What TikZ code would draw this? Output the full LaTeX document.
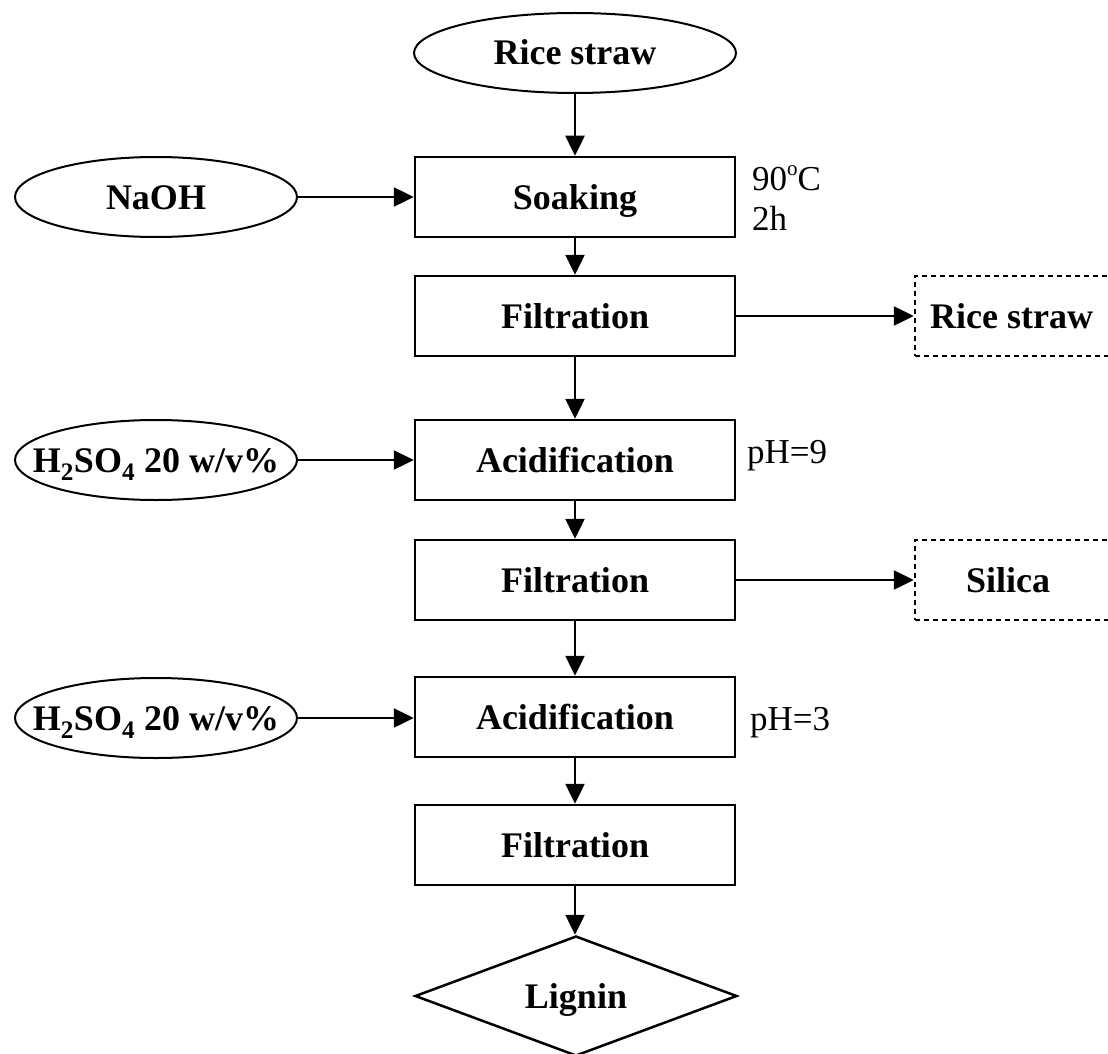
\documentclass[tikz,border=0pt]{standalone}
\usepackage{fontspec}
\setmainfont{Liberation Serif}
\usetikzlibrary{shapes.geometric,arrows.meta}
\newcommand\mkc[1]{\makebox[0pt]{#1}}
\begin{document}
\begin{tikzpicture}[x=1pt,y=-1pt,
  bigtxt/.style={font=\fontsize{36}{40}\selectfont\bfseries,text height=24pt,text depth=0pt},
  proc/.style={draw,line width=2.5pt,rectangle,minimum width=320pt,minimum height=80pt,inner sep=0pt,bigtxt},
  ell/.style={draw,line width=2pt,ellipse,minimum width=282pt,minimum height=80pt,inner sep=0pt,bigtxt},
  dbox/.style={draw,line width=2.5pt,dash pattern=on 5pt off 4pt,rectangle,minimum width=200pt,minimum height=80pt,inner sep=0pt},
  lbl/.style={inner sep=0pt,bigtxt},
  note/.style={inner sep=0pt,font=\fontsize{35}{40}\selectfont},
  arr/.style={line width=2.5pt,-{Triangle[length=20pt,width=19pt]}}
]
\useasboundingbox (0,0) rectangle (1108,1054);
\clip (0,0) rectangle (1108,1054);

\node[ell,minimum width=322pt] (rs) at (575,53) {\mkc{Rice straw}};
\node[proc] (soak) at (575,197) {Soaking};
\node[ell] (naoh) at (156,197) {\mkc{NaOH}};
\node[note,anchor=base west] (t90) at (752,190) {90\raisebox{0.42em}{\fontsize{21}{21}\selectfont o}C};
\node[note,anchor=base west] (t2h) at (752,230) {2h};

\node[proc] (f1) at (575,316) {Filtration};
\node[dbox] (rs2) at (1015,316) {};
\node[lbl,anchor=west] (rs2t) at (930,316) {Rice straw};

\node[proc] (a1) at (575,460) {Acidification};
\node[ell] (h1) at (156,460) {\mkc{H\textsubscript{2}SO\textsubscript{4} 20 w/v\%}};
\node[note,anchor=base west] (ph9) at (747,463) {pH=9};

\node[proc] (f2) at (575,580) {Filtration};
\node[dbox] (sil) at (1015,580) {};
\node[lbl] (silt) at (1008,580) {Silica};

\node[proc] (a2) at (575,717) {Acidification};
\node[ell] (h2) at (156,718) {\mkc{H\textsubscript{2}SO\textsubscript{4} 20 w/v\%}};
\node[note,anchor=base west] (ph3) at (750,730) {pH=3};

\node[proc] (f3) at (575,845) {Filtration};
\node[draw,line width=2.5pt,diamond,minimum width=322pt,minimum height=120pt,inner sep=0pt,bigtxt] (lig) at (576,996) {\mkc{Lignin}};

\draw[arr] (rs.south) -- (soak.north);
\draw[arr] (naoh.east) -- (soak.west);
\draw[arr] (soak.south) -- (f1.north);
\draw[arr] (f1.east) -- (rs2.west);
\draw[arr] (f1.south) -- (a1.north);
\draw[arr] (h1.east) -- (a1.west);
\draw[arr] (a1.south) -- (f2.north);
\draw[arr] (f2.east) -- (sil.west);
\draw[arr] (f2.south) -- (a2.north);
\draw[arr] (h2.east) -- (a2.west |- h2.east);
\draw[arr] (a2.south) -- (f3.north);
\draw[arr] (f3.south) -- (lig.north -| f3.south);
\end{tikzpicture}
\end{document}
